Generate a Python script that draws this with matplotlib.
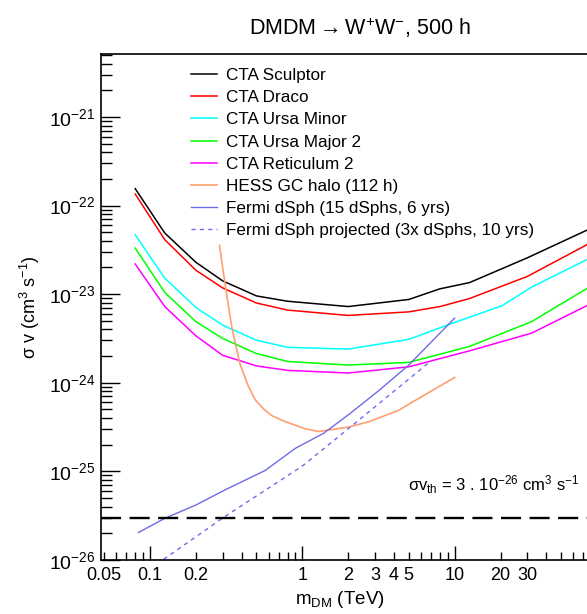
import matplotlib
matplotlib.use("Agg")
import matplotlib.pyplot as plt
from matplotlib.ticker import LogLocator, FixedLocator, FuncFormatter, NullFormatter
import numpy as np

plt.rcParams['font.family'] = ['Liberation Sans', 'DejaVu Sans']
plt.rcParams['mathtext.fontset'] = 'custom'
plt.rcParams['mathtext.rm'] = 'Liberation Sans'
plt.rcParams['mathtext.it'] = 'Liberation Sans'
plt.rcParams['mathtext.sf'] = 'Liberation Sans'

# ---- data (log10 of <sigma v> in cm^3 s^-1) ----
mass_cta = [0.08, 0.125, 0.2, 0.3, 0.5, 0.8, 2, 5, 8, 12.5, 30, 80]
sculptor = [-21.81, -22.31, -22.64, -22.85, -23.02, -23.08, -23.14, -23.06, -22.94, -22.87, -22.59, -22.25]
draco = [-21.87, -22.385, -22.73, -22.93, -23.10, -23.18, -23.24, -23.20, -23.14, -23.05, -22.80, -22.41]

mass_umi = [0.08, 0.125, 0.2, 0.3, 0.5, 0.8, 2, 5, 9.6, 20.5, 32, 80]
ursa_minor = [-22.33, -22.82, -23.15, -23.35, -23.52, -23.60, -23.62, -23.51, -23.33, -23.13, -22.92, -22.58]

mass_cta2 = [0.08, 0.125, 0.2, 0.3, 0.5, 0.8, 2, 5, 12.5, 32, 80]
ursa_major2 = [-22.48, -22.98, -23.31, -23.50, -23.67, -23.76, -23.80, -23.77, -23.59, -23.31, -22.90]
reticulum2 = [-22.66, -23.14, -23.47, -23.69, -23.81, -23.86, -23.89, -23.82, -23.64, -23.44, -23.10]

mass_hess = [0.286, 0.309, 0.344, 0.39, 0.44, 0.49, 0.56, 0.63, 0.75, 0.90, 1.05, 1.28, 2.01, 2.73, 4.3, 5.5, 10]
hess = [-22.45, -22.85, -23.37, -23.79, -24.03, -24.19, -24.30, -24.37, -24.43, -24.48, -24.52, -24.55, -24.50, -24.44, -24.31, -24.20, -23.94]

mass_fermi = [0.084, 0.125, 0.2, 0.31, 0.57, 0.90, 1.38, 2.01, 3.17, 5.0, 7.5, 10]
fermi = [-25.69, -25.53, -25.38, -25.21, -24.99, -24.74, -24.57, -24.36, -24.09, -23.80, -23.49, -23.27]

mass_fermi_proj = [0.1, 0.31, 1.0, 2.0, 6.8]
fermi_proj = [-26.1, -25.51, -24.94, -24.52, -23.77]

thermal = 3e-26

labels = ["CTA Sculptor", "CTA Draco", "CTA Ursa Minor", "CTA Ursa Major 2",
          "CTA Reticulum 2", "HESS GC halo (112 h)", "Fermi dSph (15 dSphs, 6 yrs)",
          "Fermi dSph projected (3x dSphs, 10 yrs)"]
xtick_labels = [0.05, 0.1, 0.2, 1, 2, 3, 4, 5, 10, 20, 30]
ytick_values = [1e-26, 1e-25, 1e-24, 1e-23, 1e-22, 1e-21]

W, H = 587, 614
fig = plt.figure(figsize=(W / 100, H / 100), dpi=100)
ax = fig.add_axes([101 / W, (H - 560) / H, 506 / W, 506 / H])

def p(v):
    return 10.0 ** np.asarray(v)

lw = 1.1
h1, = ax.plot(mass_cta, p(sculptor), color='black', lw=lw)
h2, = ax.plot(mass_cta, p(draco), color='#ff0000', lw=lw)
h3, = ax.plot(mass_umi, p(ursa_minor), color='#00ffff', lw=lw)
h4, = ax.plot(mass_cta2, p(ursa_major2), color='#00ff00', lw=lw)
h5, = ax.plot(mass_cta2, p(reticulum2), color='#ff00ff', lw=lw)
h6, = ax.plot(mass_hess, p(hess), color='#ff9f70', lw=1.2)
h7, = ax.plot(mass_fermi, p(fermi), color='#6c6ce6', lw=1.0)
h8, = ax.plot(mass_fermi_proj, p(fermi_proj), color='#6c6cf0', lw=1.0, ls=(0, (3, 3)))
ax.axhline(thermal, color='black', lw=1.7, ls=(0, (8.5, 3.6)))

ax.set_xscale('log')
ax.set_yscale('log')
ax.set_xlim(0.0477, 100)
ax.set_ylim(1e-26, 10 ** -20.29)

# ticks
ax.xaxis.set_major_locator(FixedLocator([0.1, 1, 10, 100]))
ax.xaxis.set_minor_locator(LogLocator(base=10, subs=np.arange(2, 10), numticks=20))
lab_set = set(xtick_labels)
def fmt(v, pos):
    for l in lab_set:
        if abs(v - l) / l < 1e-6:
            return ('%g' % l)
    return ''
ax.xaxis.set_major_formatter(FuncFormatter(fmt))
ax.xaxis.set_minor_formatter(FuncFormatter(fmt))
ax.yaxis.set_major_locator(FixedLocator(ytick_values))
ax.yaxis.set_major_formatter(FuncFormatter(lambda v, pos: r'10$^{%d}$' % int(round(np.log10(v)))))
ax.yaxis.set_minor_locator(LogLocator(base=10, subs=np.arange(2, 10), numticks=20))
ax.yaxis.set_minor_formatter(NullFormatter())

ax.tick_params(which='both', direction='in', top=False, right=False, labelsize=13, width=1)
ax.tick_params(axis='x', which='major', length=10, pad=5)
ax.tick_params(axis='x', which='minor', length=6, pad=5)
ax.tick_params(axis='y', which='major', length=14, pad=4, labelsize=14)
ax.tick_params(axis='y', which='minor', length=8)
for s in ax.spines.values():
    s.set_linewidth(1.2)

fig.text(360 / W, 1 - 28 / H, r'DMDM$\rightarrow$W$^{+}$W$^{-}$, 500 h', ha='center', va='center', fontsize=15.5)
fig.text(30 / W, 1 - 307 / H, r'$\sigma$ v (cm$^{3}$ s$^{-1}$)', rotation=90, ha='center', va='center', fontsize=13)
fig.text(340 / W, 1 - 600 / H, r'm$_{\rm DM}$ (TeV)', ha='center', va='center', fontsize=13.5)
fig.text(408 / W, 1 - 485 / H, r'$\sigma$v$_{\rm th}$ = 3 . 10$^{-26}$ cm$^{3}$ s$^{-1}$', ha='left', va='center', fontsize=12)

leg = fig.legend([h1, h2, h3, h4, h5, h6, h7, h8], labels, loc='upper left',
                 bbox_to_anchor=(191 / W, 1 - 68 / H), frameon=False, fontsize=12.3,
                 handlelength=1.5, handletextpad=0.55, labelspacing=0.42, borderpad=0,
                 borderaxespad=0)

fig.savefig('out.png', dpi=100)
